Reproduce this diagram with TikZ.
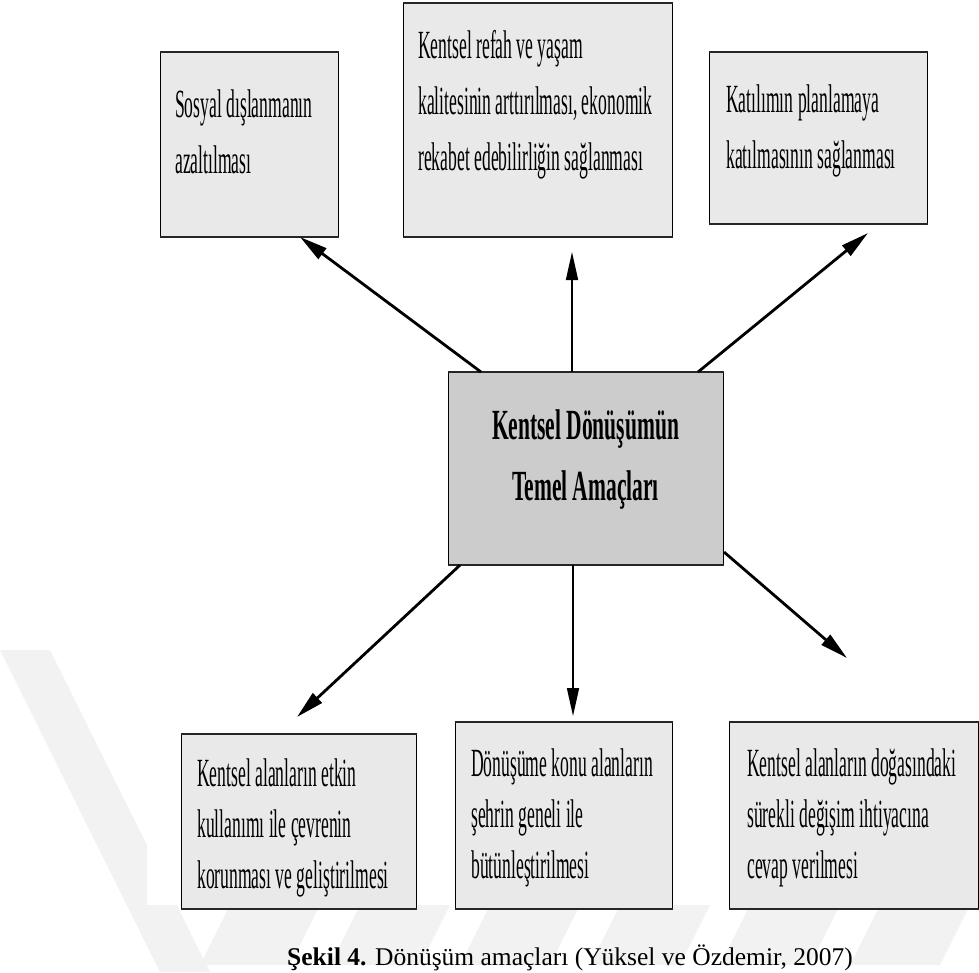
\documentclass[tikz,border=0pt]{standalone}
\usepackage{fontspec}
\setmainfont{Liberation Serif}
\usetikzlibrary{arrows.meta,calc}
\definecolor{boxfill}{HTML}{E9E9E9}
\definecolor{centerfill}{HTML}{CCCCCC}
\definecolor{wmark}{HTML}{F2F2F2}
\newcommand\boxtext[2][56]{\scalebox{0.44}[1]{\fontsize{40}{#1}\selectfont\begin{tabular}[t]{@{}l@{}}#2\end{tabular}}}
\begin{document}
\begin{tikzpicture}[x=1pt,y=-1pt,
  goalbox/.style={draw=black, line width=1.1pt, fill=boxfill, inner sep=0pt, anchor=north west},
  mainbox/.style={draw=black, line width=1.1pt, fill=centerfill, inner sep=0pt, anchor=north west},
  boxedge/.style={line width=2.6pt, draw=black!85},
  txt/.style={anchor=base west, inner sep=0pt},
  thickarrow/.style={line width=2.8pt, -{Triangle[length=28pt,width=13pt]}},
  thinarrow/.style={line width=1.6pt, -{Triangle[length=28pt,width=12pt]}}]
\useasboundingbox (0,0) rectangle (979,972);
% faint watermark
\fill[wmark] (0,650) -- (50,650) -- (210,972) -- (160,972) -- cycle;
\foreach \a in {230,360,490,620,750,880}
  \fill[wmark] (\a,905) -- (\a+90,905) -- (\a+60,965) -- (\a-30,965) -- cycle;
\fill[white] (147,0) rectangle (979,905);
% boxes
\node[goalbox, minimum width=178pt, minimum height=184pt] (b1) at (160,52) {};
\node[goalbox, minimum width=269pt, minimum height=233pt] (b2) at (403,3) {};
\node[goalbox, minimum width=218pt, minimum height=171pt] (b3) at (709,52) {};
\node[mainbox, minimum width=275pt, minimum height=192pt] (c) at (448,372) {};
\node[goalbox, minimum width=235pt, minimum height=174pt] (b4) at (181,734) {};
\node[goalbox, minimum width=217pt, minimum height=186pt] (b5) at (455,722) {};
\node[goalbox, minimum width=249pt, minimum height=186pt] (b6) at (729,722) {};
\foreach \n in {b1,b2,b3,c,b4,b5,b6}
  \draw[boxedge] (\n.north west) -- (\n.north east) (\n.south west) -- (\n.south east);
% texts
\node[txt] (t1) at (175,117) {\boxtext{Sosyal dışlanmanın\\azaltılması}};
\node[txt] (t2) at (418,58) {\boxtext{Kentsel refah ve yaşam\\kalitesinin arttırılması, ekonomik\\rekabet edebilirliğin sağlanması}};
\node[txt] (t3) at (726,112) {\boxtext{Katılımın planlamaya\\katılmasının sağlanması}};
\node[anchor=base, inner sep=0pt] (ct) at (585.5,439) {\scalebox{0.5}[1]{\fontsize{43}{61}\selectfont\bfseries\begin{tabular}[t]{@{}c@{}}Kentsel Dönüşümün\\Temel Amaçları\end{tabular}}};
\node[txt] (t4) at (197,786) {\boxtext[51]{Kentsel alanların etkin\\kullanımı ile çevrenin\\korunması ve geliştirilmesi}};
\node[txt] (t5) at (471,776) {\boxtext[51]{Dönüşüme konu alanların\\şehrin geneli ile\\bütünleştirilmesi}};
\node[txt] (t6) at (747,776) {\boxtext[51]{Kentsel alanların doğasındaki\\sürekli değişim ihtiyacına\\cevap verilmesi}};
% arrow coordinates
\coordinate (s1) at ($(c.north west)+(33,0)$);
\coordinate (s2) at ($(c.north west)+(124,0)$);
\coordinate (s3) at ($(c.north west)+(250,0)$);
\coordinate (s4) at ($(c.south west)+(12,0)$);
\coordinate (s5) at ($(c.south west)+(125,0)$);
\coordinate (s6) at ($(c.south east)+(0,-13)$);
\coordinate (e1) at (300,237);
\coordinate (e2) at (572,252);
\coordinate (e3) at (868,233);
\coordinate (e4) at (297,717);
\coordinate (e5) at (573,716);
\coordinate (e6) at (847,658);
\draw[thickarrow] (s1) -- (e1);
\draw[thinarrow] (s2) -- (e2);
\draw[thickarrow] (s3) -- (e3);
\draw[thickarrow] (s4) -- (e4);
\draw[thinarrow] (s5) -- (e5);
\draw[thickarrow] (s6) -- (e6);
% caption
\node[anchor=base, inner sep=0pt] (cap) at (570,965) {\fontsize{25.5}{29}\selectfont\textbf{Şekil 4.} Dönüşüm amaçları (Yüksel ve Özdemir, 2007)};
\end{tikzpicture}
\end{document}
